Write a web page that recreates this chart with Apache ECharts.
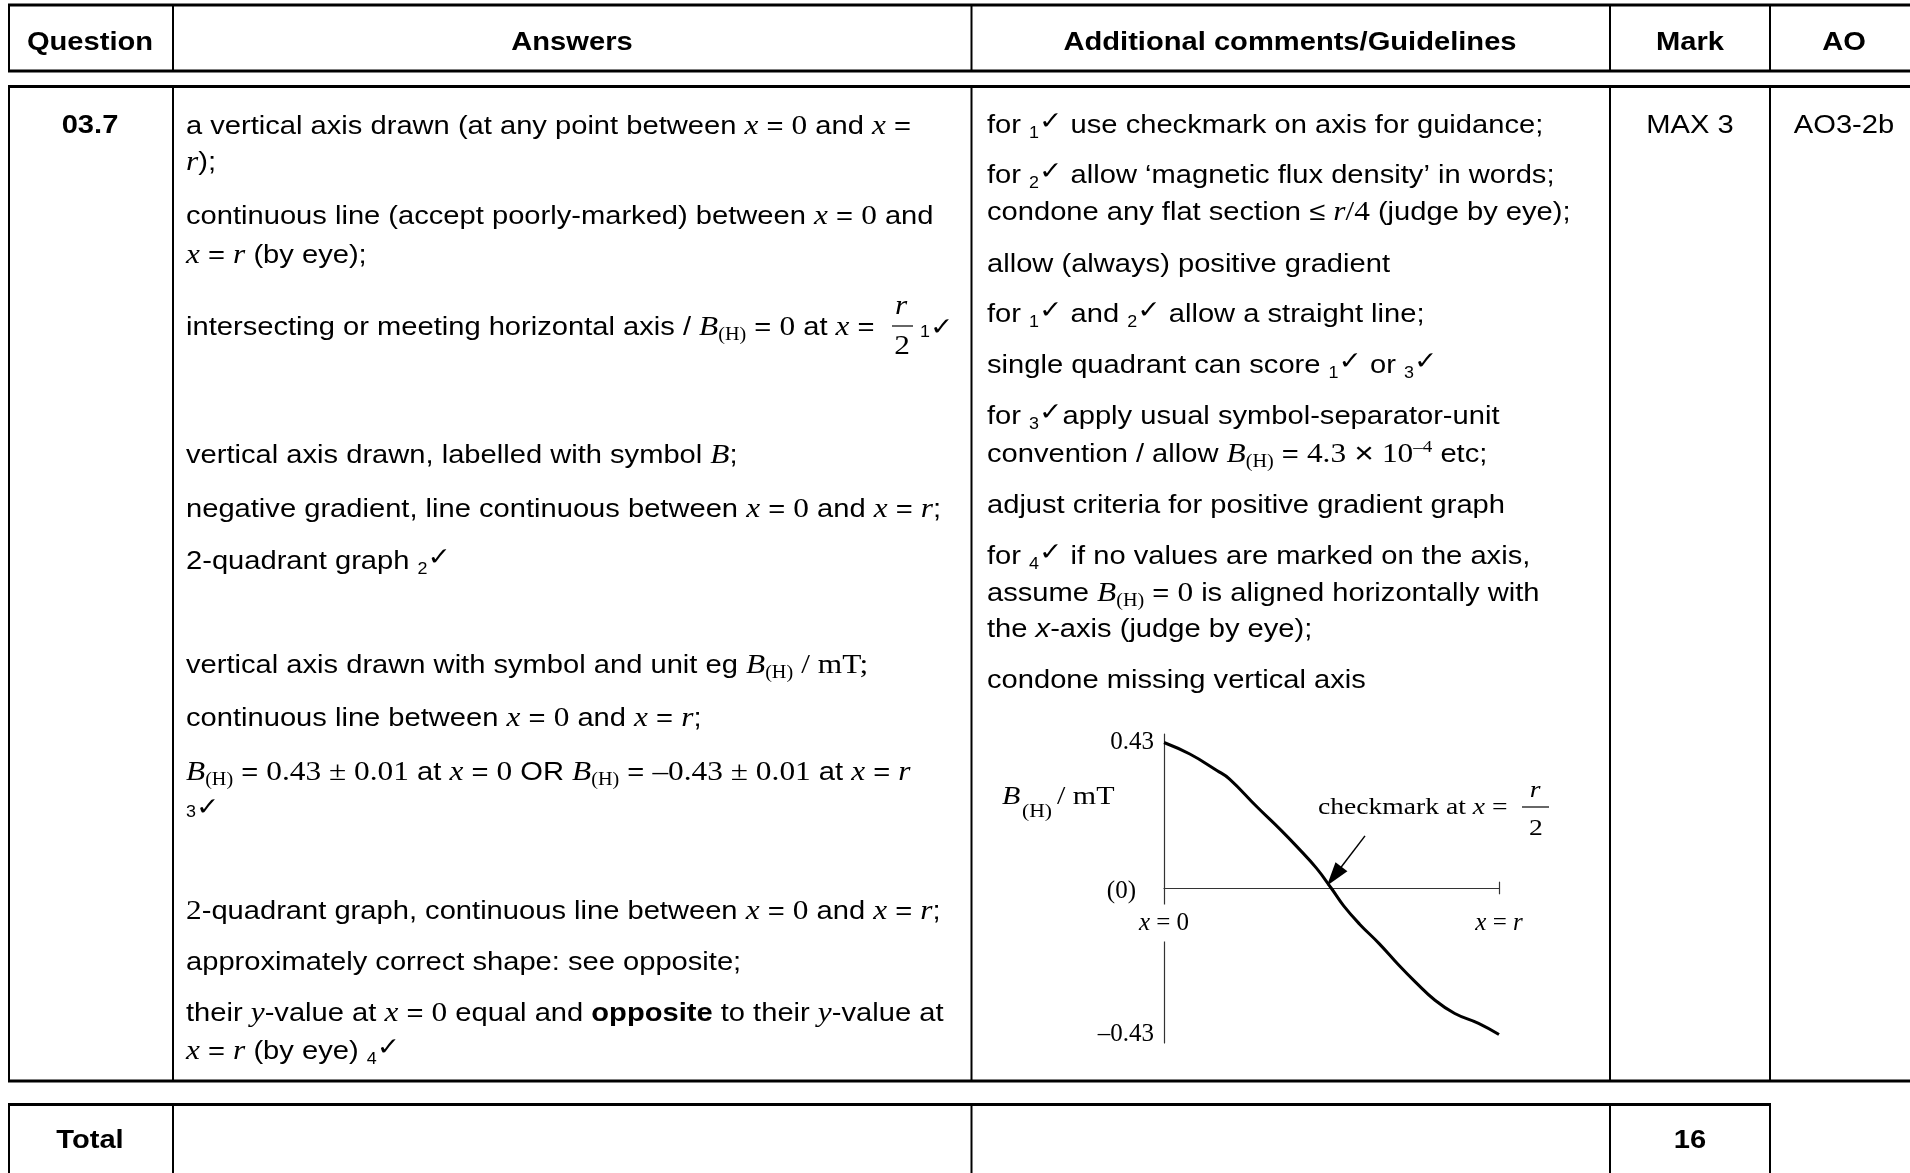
<!DOCTYPE html>
<html><head><meta charset="utf-8">
<script src="https://cdn.jsdelivr.net/npm/echarts@6/dist/echarts.min.js"></script>
<style>html,body{margin:0;padding:0;background:#fff}#c{width:1910px;height:1173px}</style>
</head><body><div id="c"></div>
<script>
// ---- chart data ----
const curveX = [0, 0.077, 0.159, 0.195, 0.278, 0.349, 0.396, 0.455, 0.5, 0.537, 0.584, 0.643, 0.702, 0.750, 0.809, 0.868, 0.939, 1.0];
const curveY = [0.43, 0.396, 0.347, 0.323, 0.240, 0.172, 0.124, 0.060, 0.0, -0.052, -0.105, -0.163, -0.227, -0.275, -0.329, -0.368, -0.397, -0.43];
const yTickValues = [0.43, 0, -0.43];
const yTickLabels = ['0.43', '(0)', '–0.43'];
const xTickValues = [0, 1];
const xTickLabels = ['x = 0', 'x = r'];
const arrowFrom = [0.60, 0.155];
const arrowTo = [0.508, 0.036];
const endTickY = [-0.017, 0.02];

// ---- table text ----
const headers = ['Question', 'Answers', 'Additional comments/Guidelines', 'Mark', 'AO'];
const questionId = '03.7';
const markText = 'MAX 3';
const aoText = 'AO3-2b';
const totalLabel = 'Total';
const totalMark = '16';
const answerLines = [
  [124, 'a vertical axis drawn (at any point between {i|x} = {n|0} and {i|x} ='],
  [160, '{i|r});'],
  [214, 'continuous line (accept poorly-marked) between {i|x} = {n|0} and'],
  [253, '{i|x} = {i|r} (by eye);'],
  [325, 'intersecting or meeting horizontal axis / {i|B}{h|(H)} = {n|0} at {i|x} ='],
  [453, 'vertical axis drawn, labelled with symbol {i|B};'],
  [507, 'negative gradient, line continuous between {i|x} = {n|0} and {i|x} = {i|r};'],
  [559, '2-quadrant graph {s|2}{c|✓}'],
  [663, 'vertical axis drawn with symbol and unit eg {i|B}{h|(H)} {n|/ mT;}'],
  [716, 'continuous line between {i|x} = {n|0} and {i|x} = {i|r};'],
  [770, '{i|B}{h|(H)} = {n|0.43 ± 0.01} at {i|x} = {n|0} OR {i|B}{h|(H)} = {n|–0.43 ± 0.01} at {i|x} = {i|r}'],
  [805, '{s|3}{c|✓}'],
  [909, '{n|2}-quadrant graph, continuous line between {i|x} = {n|0} and {i|x} = {i|r};'],
  [960, 'approximately correct shape: see opposite;'],
  [1011, 'their {i|y}-value at {i|x} = {n|0} equal and {b|opposite} to their {i|y}-value at'],
  [1049, '{i|x} = {i|r} (by eye) {s|4}{c|✓}']
];
const guideLines = [
  [123, 'for {s|1}{c|✓} use checkmark on axis for guidance;'],
  [173, 'for {s|2}{c|✓} allow ‘magnetic flux density’ in words;'],
  [210, 'condone any flat section ≤ {i|r}{n|/4} (judge by eye);'],
  [262, 'allow (always) positive gradient'],
  [312, 'for {s|1}{c|✓} and {s|2}{c|✓} allow a straight line;'],
  [363, 'single quadrant can score {s|1}{c|✓} or {s|3}{c|✓}'],
  [414, 'for {s|3}{c|✓}apply usual symbol-separator-unit'],
  [452, 'convention / allow {i|B}{h|(H)} = {n|4.3} {x2|×} {n|10}{p|–4} etc;'],
  [503, 'adjust criteria for positive gradient graph'],
  [554, 'for {s|4}{c|✓} if no values are marked on the axis,'],
  [591, 'assume {i|B}{h|(H)} = {n|0} is aligned horizontally with'],
  [627, 'the {xs|x}-axis (judge by eye);'],
  [678, 'condone missing vertical axis']
];

const SANS = '"Liberation Sans", Arial, Helvetica, sans-serif';
const SERIF = '"Liberation Serif", "Times New Roman", serif';
const CHECKF = '"DejaVu Sans", sans-serif';
const SX = 1.12, SXS = 1.2, DY = 3;

const RICH = {
  i: {fontFamily: SERIF, fontStyle: 'italic', fontSize: 28},
  n: {fontFamily: SERIF, fontSize: 28},
  h: {fontFamily: SERIF, fontSize: 18, verticalAlign: 'bottom', lineHeight: 24},
  s: {fontFamily: SANS, fontSize: 16, verticalAlign: 'bottom', lineHeight: 20},
  c: {fontFamily: CHECKF, fontSize: 25, verticalAlign: 'top', lineHeight: 25},
  b: {fontFamily: SANS, fontWeight: 'bold', fontSize: 26},
  p: {fontFamily: SERIF, fontSize: 17, verticalAlign: 'top', lineHeight: 20},
  x2: {fontFamily: SANS, fontSize: 30},
  xs: {fontFamily: SANS, fontStyle: 'italic', fontSize: 26}
};
const RICH_CH = {
  i: {fontFamily: SERIF, fontStyle: 'italic', fontSize: 23}
};

function T(x, y, text, o) {
  o = o || {};
  const al = o.align || 'left';
  return {type: 'text', x: x, y: y, scaleX: o.sx || SX, silent: true, z: 10,
    style: {text: text, fill: '#000', fontFamily: o.family || SANS, fontSize: o.size || 26,
      fontWeight: o.weight || 'normal', fontStyle: o.style || 'normal', lineHeight: o.lh || 32,
      align: al, verticalAlign: 'middle', textAlign: al, textVerticalAlign: 'middle',
      rich: o.rich || RICH}};
}
function L(x1, y1, x2, y2, w) {
  return {type: 'line', silent: true, z: 5, shape: {x1, y1, x2, y2}, style: {stroke: '#000', lineWidth: w}};
}

const g = [];
// table rules
const colX = [9, 173, 971.5, 1610, 1770];
[5, 71, 86.5, 1081].forEach(y => g.push(L(8, y, 1910, y, 3)));
g.push(L(8, 1104.5, 1771, 1104.5, 3));
colX.forEach(x => {
  g.push(L(x, 5, x, 71, 2));
  g.push(L(x, 86.5, x, 1081, 2));
  g.push(L(x, 1104.5, x, 1173, 2));
});
// headers
const headX = [90, 572, 1290, 1690, 1844];
headers.forEach((h, i) => g.push(T(headX[i], 40 + DY, h, {align: 'center', weight: 'bold'})));
g.push(T(90, 123 + DY, questionId, {align: 'center', weight: 'bold'}));
g.push(T(1690, 123 + DY, markText, {align: 'center'}));
g.push(T(1844, 123 + DY, aoText, {align: 'center'}));
g.push(T(90, 1138 + DY, totalLabel, {align: 'center', weight: 'bold'}));
g.push(T(1690, 1138 + DY, totalMark, {align: 'center', weight: 'bold'}));
answerLines.forEach(l => g.push(T(186, l[0] + DY, l[1])));
guideLines.forEach(l => g.push(T(987, l[0] + DY, l[1])));
// fraction r/2 in answers
g.push(T(901, 307, 'r', {align: 'center', family: SERIF, style: 'italic', size: 28}));
g.push(L(892, 326, 913, 326, 1.2));
g.push(T(902, 347, '2', {align: 'center', family: SERIF, size: 28}));
g.push(T(920, 328, '{s|1}{c|✓}'));
// chart annotations
g.push(T(1318, 808, 'checkmark at {i|x} =', {family: SERIF, size: 23, sx: SXS, rich: RICH_CH, lh: 28}));
g.push(T(1535, 791, 'r', {align: 'center', family: SERIF, style: 'italic', size: 23, sx: SXS}));
g.push(L(1522, 807, 1549, 807, 1.2));
g.push(T(1536, 829, '2', {align: 'center', family: SERIF, size: 23, sx: SXS}));
g.push(T(1002, 797, 'B', {family: SERIF, style: 'italic', size: 25, sx: SXS}));
g.push(T(1022, 812, '(H)', {family: SERIF, size: 18, sx: SXS}));
g.push(T(1057, 797, '/ mT', {family: SERIF, size: 25, sx: SXS}));

function richTick(s) {
  const parts = s.split(' = ');
  const r = /^[0-9]/.test(parts[1]) ? '{n|' + parts[1] + '}' : '{i|' + parts[1] + '}';
  return '{i|' + parts[0] + '}{n| = }' + r;
}
const axisColor = '#333';
const chart = echarts.init(document.getElementById('c'), null, {renderer: 'canvas'});
chart.setOption({
  animation: false,
  backgroundColor: '#fff',
  grid: {left: 1164, top: 734, width: 335, height: 309, containLabel: false, outerBoundsMode: 'none'},
  xAxis: {
    type: 'value', min: 0, max: 1,
    axisLine: {show: true, onZero: true, lineStyle: {color: axisColor, width: 1.2}},
    splitLine: {show: false},
    axisTick: {show: false},
    axisLabel: {show: false}
  },
  yAxis: {
    type: 'value', min: -0.455, max: 0.455,
    axisLine: {show: true, onZero: false, lineStyle: {color: axisColor, width: 1.2}},
    axisTick: {show: false}, splitLine: {show: false},
    axisLabel: {
      customValues: yTickValues, margin: 10, color: '#000',
      fontFamily: SERIF, fontSize: 25,
      formatter: v => {
        const i = yTickValues.findIndex(t => Math.abs(t - v) < 1e-9);
        return i === 1 ? '{z|' + yTickLabels[i] + '}' : yTickLabels[i];
      },
      rich: {z: {fontFamily: SERIF, fontSize: 25, color: '#000', padding: [6, 18, 0, 0]}}
    }
  },
  series: [{
    type: 'line',
    data: curveX.map((x, i) => [x, curveY[i]]),
    smooth: 0.45, symbol: 'none',
    lineStyle: {color: '#000', width: 3},
    markLine: {
      silent: true, symbol: ['none', 'none'],
      lineStyle: {color: '#000', width: 1.5, type: 'solid'},
      label: {show: false},
      data: [
        [{coord: arrowFrom, symbol: 'none'}, {coord: arrowTo, symbol: 'triangle', symbolSize: [15, 24]}],
        [{coord: [xTickValues[1], endTickY[0]], lineStyle: {color: axisColor, width: 1.2}},
         {coord: [xTickValues[1], endTickY[1]]}]
      ]
    }
  }, {
    // x tick labels placed on the zero line through the axes' scales
    type: 'scatter', z: 6, silent: true,
    data: xTickValues.map(v => [v, 0]),
    symbolSize: 0,
    itemStyle: {opacity: 1, color: '#000'},
    label: {
      show: true, position: 'bottom', distance: 16, color: '#000', opacity: 1,
      backgroundColor: '#fff', padding: [6, 4, 6, 4],
      formatter: p => richTick(xTickLabels[p.dataIndex]),
      rich: {i: {fontFamily: SERIF, fontStyle: 'italic', fontSize: 25, color: '#000'},
             n: {fontFamily: SERIF, fontSize: 25, color: '#000'}}
    }
  }],
  graphic: {elements: g}
});
</script></body></html>
